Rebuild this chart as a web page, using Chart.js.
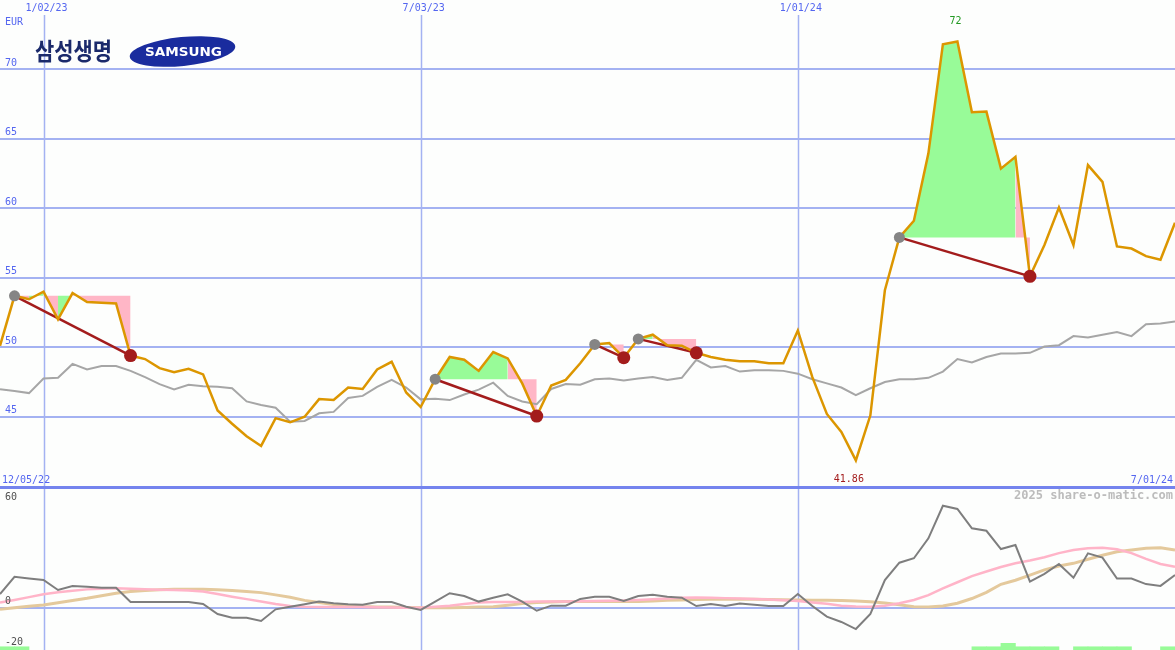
<!DOCTYPE html>
<html>
<head>
<meta charset="utf-8">
<script src="https://cdn.jsdelivr.net/npm/chart.js@4.4.1/dist/chart.umd.min.js"></script>
<style>
  html, body { margin: 0; padding: 0; background: #fdfefd; }
  #wrap { width: 1175px; height: 650px; }
</style>
</head>
<body>
<div id="wrap"><canvas id="chart" width="1175" height="650"></canvas></div>
<script>
// weekly closes, 12/12/22 .. 7/01/24 (index 0..81)
const startDate = '12/05/22';
const endDate = '7/01/24';
const gridIdx = [3, 29, 55];
const gridDates = ['1/02/23', '7/03/23', '1/01/24'];
const priceTicks = [45, 50, 55, 60, 65, 70];
const oscTicks = [60, 0, -20];

const price = [
  50.1, 53.7, 53.45, 54.0, 52.0, 53.9, 53.25, 53.2, 53.15, 49.4,
  49.15, 48.5, 48.2, 48.45, 48.05, 45.45, 44.5, 43.6, 42.9, 44.9,
  44.6, 45.0, 46.27, 46.2, 47.1, 47.0, 48.4, 48.95, 46.75, 45.7,
  47.7, 49.3, 49.1, 48.3, 49.65, 49.2, 47.4, 45.05, 47.25, 47.65,
  48.85, 50.2, 50.3, 49.25, 50.6, 50.9, 50.15, 50.1, 49.6, 49.3,
  49.1, 49.0, 49.0, 48.85, 48.85, 51.2, 47.85, 45.2, 43.9, 41.86,
  45.1, 54.1, 57.9, 59.1, 63.95, 71.8, 72.0, 66.9, 66.95, 62.85,
  63.7, 55.1, 57.35, 60.05, 57.35, 63.1, 61.9, 57.25, 57.1, 56.55,
  56.3, 58.95
];
const bench = [
  46.97, 46.85, 46.7, 47.75, 47.8, 48.8, 48.4, 48.65, 48.65, 48.3,
  47.85, 47.35, 46.97, 47.3, 47.2, 47.15, 47.05, 46.1, 45.85, 45.65,
  44.65, 44.7, 45.25, 45.35, 46.35, 46.5, 47.15, 47.65, 47.1, 46.25,
  46.3, 46.2, 46.6, 46.95, 47.45, 46.5, 46.1, 45.9, 47.0, 47.35,
  47.3, 47.7, 47.75, 47.6, 47.75, 47.85, 47.65, 47.8, 49.1, 48.55,
  48.65, 48.25, 48.35, 48.35, 48.3, 48.1, 47.7, 47.4, 47.1, 46.55,
  47.05, 47.5, 47.7, 47.7, 47.8, 48.25, 49.15, 48.9, 49.3, 49.55,
  49.55, 49.6, 50.05, 50.15, 50.8, 50.7, 50.9, 51.1, 50.8, 51.65,
  51.7, 51.85
];
// [buy index, sell index]
const trades = [[1, 9], [30, 37], [41, 43], [44, 48], [62, 71]];

const osc = [
  6.7, 15.2, 14.4, 13.6, 8.7, 10.7, 10.3, 9.8, 9.8, 2.8,
  2.8, 2.8, 2.8, 2.8, 1.8, -3.1, -4.9, -4.9, -6.5, -0.8,
  0.5, 1.7, 3.0, 2.2, 1.7, 1.5, 2.8, 2.8, 0.5, -1.1,
  3.0, 7.1, 5.7, 3.0, 4.9, 6.6, 3.0, -1.5, 1.0, 1.0,
  4.3, 5.4, 5.4, 3.3, 5.7, 6.4, 5.4, 4.9, 0.8, 1.8,
  0.8, 2.0, 1.5, 0.8, 0.8, 6.7, 0.8, -4.4, -7.0, -10.5,
  -3.1, 13.6, 22.1, 24.3, 34.1, 50.1, 48.5, 39.0, 37.8, 28.8,
  30.8, 12.8, 16.6, 21.5, 14.7, 26.7, 24.6, 14.3, 14.3, 11.6,
  10.7, 16.1
];
const oscPink = [
  2.5, 3.8, 5.2, 6.6, 7.6, 8.3, 9.0, 9.3, 9.5, 9.3,
  9.0, 8.8, 8.7, 8.5, 7.9, 6.7, 5.4, 4.2, 3.0, 1.8,
  0.8, 0.5, 0.4, 0.3, 0.3, 0.3, 0.2, 0.1, 0.0, 0.0,
  0.5, 1.0, 1.8, 2.5, 2.8, 2.8, 2.8, 3.0, 3.0, 3.1,
  3.2, 3.3, 3.4, 3.5, 3.8, 4.2, 4.5, 4.9, 5.0, 4.9,
  4.7, 4.5, 4.3, 4.0, 3.6, 3.3, 2.6, 1.9, 1.0, 0.6,
  0.5, 1.0, 2.2, 3.8, 6.2, 9.5, 12.5, 15.5, 17.8, 20.0,
  21.8, 23.2, 24.8, 26.8, 28.3, 29.2, 29.5, 28.7, 26.8, 24.0,
  21.5, 20.1
];
const oscTan = [
  -0.8, 0.0, 0.7, 1.3, 2.4, 3.5, 4.6, 5.9, 7.1, 7.9,
  8.4, 8.8, 9.0, 9.1, 9.0, 8.8, 8.4, 8.0, 7.4, 6.3,
  5.1, 3.6, 2.6, 1.6, 1.0, 0.6, 0.4, 0.3, 0.1, 0.0,
  0.0, 0.0, 0.1, 0.3, 0.5, 1.2, 2.0, 2.5, 2.8, 3.0,
  3.0, 3.0, 3.0, 3.0, 3.0, 3.3, 3.6, 3.8, 4.0, 4.1,
  4.2, 4.2, 4.1, 4.0, 3.9, 3.8, 3.7, 3.6, 3.5, 3.3,
  2.9, 2.3, 1.4, 0.5, 0.4, 0.8, 2.2, 4.5, 7.5, 11.5,
  13.5, 16.0, 18.6, 20.5, 21.8, 23.8, 25.8, 27.5, 28.4, 29.2,
  29.4, 28.4
];
// signal bars per weekly interval (top value on oscillator axis)
const signalTop = [
  -19.2, -19.2, null, null, null, null, null, null, null, null,
  null, null, null, null, null, null, null, null, null, null,
  null, null, null, null, null, null, null, null, null, null,
  null, null, null, null, null, null, null, null, null, null,
  null, null, null, null, null, null, null, null, null, null,
  null, null, null, null, null, null, null, null, null, null,
  null, null, null, null, null, null, null, -19.2, -19.2, -17.5,
  -19.2, -19.2, -19.2, null, -19.2, -19.2, -19.2, -19.2, null, null,
  -19.2, null
];

const GREEN = '#98fb98';
const PINK = '#ffb6c6';
const GRID = '#a4b2f2';
const pts = arr => arr.map((v, i) => ({ x: i, y: v }));

// coloured areas between price and entry level for each trade
const fillSets = [];
trades.forEach(([b, s]) => {
  const entry = price[b];
  let runStart = b;
  for (let i = b + 1; i <= s; i++) {
    const up = price[i] > entry;
    const last = i === s;
    if (last || (price[i + 1] > entry) !== up) {
      const data = [];
      for (let k = runStart; k <= i; k++) data.push({ x: k, y: price[k] });
      fillSets.push({
        data, yAxisID: 'y', fill: { value: entry },
        backgroundColor: up ? GREEN : PINK, borderWidth: 0, pointRadius: 0, order: 20
      });
      runStart = i;
    }
  }
});

const tradeLines = trades.map(([b, s]) => ({
  data: [{ x: b, y: price[b] }, { x: s, y: price[s] }],
  yAxisID: 'y', borderColor: '#a31c1c', borderWidth: 2.5, pointRadius: 0, order: 6
}));

const dotData = [], dotColors = [], dotRadius = [];
trades.forEach(([b, s]) => {
  dotData.push({ x: b, y: price[b] }); dotColors.push('#858585'); dotRadius.push(5.5);
  dotData.push({ x: s, y: price[s] }); dotColors.push('#a31c1c'); dotRadius.push(6.5);
});

const barData = [];
signalTop.forEach((t, i) => { if (t !== null) barData.push({ x: i + 0.5, y: [-21, t] }); });

const panels = {
  id: 'panels',
  beforeDatasetsDraw(chart) {
    const { ctx, scales: { x, y, y2 } } = chart;
    ctx.save();
    ctx.strokeStyle = GRID;
    ctx.lineWidth = 2;
    priceTicks.forEach(v => {
      const py = Math.round(y.getPixelForValue(v));
      ctx.beginPath(); ctx.moveTo(0, py); ctx.lineTo(1175, py); ctx.stroke();
    });
    const zy = Math.round(y2.getPixelForValue(0));
    ctx.beginPath(); ctx.moveTo(0, zy); ctx.lineTo(1175, zy); ctx.stroke();
    ctx.lineWidth = 1.5;
    gridIdx.forEach(i => {
      const px = Math.round(x.getPixelForValue(i)) + 0.5;
      ctx.beginPath(); ctx.moveTo(px, 15); ctx.lineTo(px, 650); ctx.stroke();
    });
    ctx.strokeStyle = '#7484ee';
    ctx.lineWidth = 3;
    ctx.beginPath(); ctx.moveTo(0, 487.5); ctx.lineTo(1175, 487.5); ctx.stroke();
    ctx.restore();
  },
  afterDraw(chart) {
    const { ctx, scales: { x, y, y2 } } = chart;
    ctx.save();
    ctx.textBaseline = 'middle';
    ctx.font = '10px "DejaVu Sans Mono"';
    ctx.fillStyle = '#5466f0';
    ctx.textAlign = 'center';
    gridIdx.forEach((i, k) => ctx.fillText(gridDates[k], x.getPixelForValue(i) + 3, 8));
    ctx.textAlign = 'left';
    ctx.fillText('EUR', 5, 22);
    ctx.textBaseline = 'bottom';
    priceTicks.forEach(v => ctx.fillText(String(v), 5, y.getPixelForValue(v) - 1));
    ctx.textBaseline = 'middle';
    ctx.fillText(startDate, 2, 480);
    ctx.textAlign = 'right';
    ctx.fillText(endDate, 1173, 480);

    let lo = 0, hi = 0;
    price.forEach((v, i) => { if (v < price[lo]) lo = i; if (v > price[hi]) hi = i; });
    ctx.textAlign = 'center';
    ctx.fillStyle = '#a31c1c';
    ctx.fillText(price[lo].toFixed(2), x.getPixelForValue(lo) - 7, 479);
    ctx.fillStyle = '#229922';
    ctx.fillText(String(+price[hi].toFixed(2)), x.getPixelForValue(hi) - 2, 21);

    ctx.textAlign = 'right';
    ctx.font = 'bold 12px "DejaVu Sans Mono"';
    ctx.fillStyle = '#bcbcbc';
    ctx.fillText('2025 share-o-matic.com', 1173, 496);

    ctx.textAlign = 'left';
    ctx.font = '10px "DejaVu Sans Mono"';
    ctx.fillStyle = '#505050';
    oscTicks.forEach(v => {
      const py = Math.max(y2.getPixelForValue(v) - 6, 497);
      ctx.fillText(String(v), 5, py);
    });

    // logo
    ctx.font = 'bold 24px "Noto Sans CJK KR"';
    ctx.fillStyle = '#1b2a6b';
    const kw = ctx.measureText('삼성생명').width;
    ctx.save();
    ctx.translate(35, 51);
    ctx.scale(77 / kw, 1);
    ctx.textAlign = 'left';
    ctx.fillText('삼성생명', 0, 0);
    ctx.restore();

    ctx.fillStyle = '#1a2c9e';
    ctx.beginPath();
    ctx.ellipse(182.5, 51.5, 53, 14.5, -0.1, 0, Math.PI * 2);
    ctx.fill();
    ctx.font = 'bold 13px "DejaVu Sans"';
    ctx.fillStyle = '#ffffff';
    const sw = ctx.measureText('SAMSUNG').width;
    ctx.save();
    ctx.translate(145, 52.5);
    ctx.scale(77 / sw, 1);
    ctx.fillText('SAMSUNG', 0, 0);
    ctx.restore();
    ctx.restore();
  }
};

new Chart(document.getElementById('chart'), {
  type: 'line',
  data: {
    datasets: [
      ...fillSets,
      { data: pts(bench), yAxisID: 'y', borderColor: '#a6a6a6', borderWidth: 2, pointRadius: 0, order: 8 },
      ...tradeLines,
      { data: pts(price), yAxisID: 'y', borderColor: '#dc9600', borderWidth: 2.5, pointRadius: 0, order: 4 },
      { data: dotData, yAxisID: 'y', showLine: false, pointRadius: dotRadius, pointBackgroundColor: dotColors, pointBorderWidth: 0, order: 2 },
      { type: 'bar', data: barData, yAxisID: 'y2', backgroundColor: GREEN, barPercentage: 1, categoryPercentage: 1, order: 19 },
      { data: pts(oscTan), yAxisID: 'y2', borderColor: '#e4c99c', borderWidth: 3, pointRadius: 0, order: 13 },
      { data: pts(oscPink), yAxisID: 'y2', borderColor: '#ffb4c8', borderWidth: 2.5, pointRadius: 0, order: 12 },
      { data: pts(osc), yAxisID: 'y2', borderColor: '#7e7e7e', borderWidth: 2, pointRadius: 0, order: 11 }
    ]
  },
  options: {
    responsive: false,
    animation: false,
    events: [],
    layout: { padding: 0, autoPadding: false },
    plugins: { legend: { display: false }, tooltip: { enabled: false } },
    scales: {
      x: { type: 'linear', min: 0, max: 81, offset: false, display: false },
      y: { type: 'linear', min: 28.22, max: 74.98, display: false },
      y2: { type: 'linear', min: -20.79, max: 298.6, display: false }
    }
  },
  plugins: [panels]
});
</script>
</body>
</html>
